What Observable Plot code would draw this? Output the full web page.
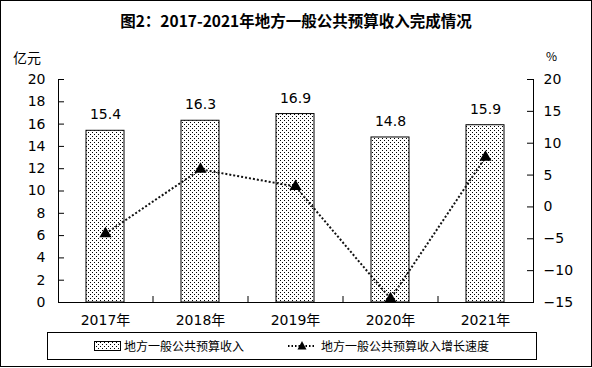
<!DOCTYPE html>
<html><head><meta charset="utf-8">
<script src="https://cdn.jsdelivr.net/npm/d3@7"></script>
<script src="https://cdn.jsdelivr.net/npm/@observablehq/plot@0.6"></script>
<style>
body{margin:0;background:#fff;font-family:"DejaVu Sans","Noto Sans CJK SC",sans-serif;}
#wrap{position:relative;width:592px;height:368px;overflow:hidden;}
#border{position:absolute;left:0;top:0;width:590px;height:365px;border:1px solid #000;}
#title{position:absolute;left:0;width:592px;top:9px;text-align:center;font:bold 15.5px "Noto Sans CJK SC",serif;color:#000;}
.unit{position:absolute;top:47px;font:14px "Noto Sans CJK SC",sans-serif;color:#000;}
#chart{position:absolute;left:0;top:0;}
#legend{position:absolute;left:47px;top:332px;width:488px;height:26px;border:1px solid #000;font:12px "Noto Sans CJK SC",sans-serif;color:#000;}
.li{position:absolute;top:4px;display:flex;align-items:center;}
</style></head>
<body><div id="wrap"><div id="border"></div>
<div id="title">图2：2017-2021年地方一般公共预算收入完成情况</div>
<div class="unit" style="left:13px">亿元</div>
<div class="unit" style="left:546px;font-size:12px">%</div>
<div id="chart"></div>
<div id="legend">
 <div class="li" style="left:46px"><svg width="28" height="12"><defs><pattern id="dl" width="4" height="4" patternUnits="userSpaceOnUse"><rect width="4" height="4" fill="#fff"/><rect width="1" height="1" fill="#000"/><rect x="2" y="2" width="1" height="1" fill="#000"/></pattern></defs><rect x="0.5" y="1.5" width="26" height="9" fill="url(#dl)" stroke="#000"/></svg><span style="margin-left:2px">地方一般公共预算收入</span></div>
 <div class="li" style="left:238px"><svg width="32" height="12"><line x1="2" x2="30" y1="6" y2="6" stroke="#000" stroke-width="2" stroke-dasharray="1.5 2"/><path d="M16,1 L20.5,9.5 L11.5,9.5Z" fill="#000"/></svg><span style="margin-left:3px">地方一般公共预算收入增长速度</span></div>
</div>
</div>
<script>
const years = ["2017年","2018年","2019年","2020年","2021年"];
const revenue = [15.4, 16.3, 16.9, 14.8, 15.9];
const growth = [-4.2, 5.9, 3.2, -14.4, 7.8];
const leftTicks = [0,2,4,6,8,10,12,14,16,18,20];
const rightTicks = [-15,-10,-5,0,5,10,15,20];

const rMin = -15, rMax = 20, lMax = 20;
const toLeft = g => (g - rMin) * lMax / (rMax - rMin);

const W = 592, H = 335, ML = 58, MR = 59, MT = 79, MB = 33, TICK = 6;
const plotW = W - ML - MR, plotH = H - MT - MB;
const step = plotW / years.length;
const rows = years.map((y, i) => ({year: y, rev: revenue[i], g: growth[i]}));

const font = `"DejaVu Sans","Noto Sans CJK SC",sans-serif`;
const plot = Plot.plot({
  width: W, height: H,
  marginTop: MT, marginBottom: MB, marginLeft: ML, marginRight: MR,
  style: {fontFamily: font, fontSize: "14px", color: "#000", background: "transparent", overflow: "visible"},
  x: {domain: years, padding: 0.6, paddingOuter: 0.3, label: null},
  y: {domain: [0, lMax], label: null},
  marks: [
    Plot.barY(rows, {x: "year", y: "rev", fill: "url(#dots)", stroke: "#000", strokeWidth: 1}),
    Plot.text(rows, {x: "year", y: "rev", text: d => d.rev.toFixed(1), dy: -16, fontSize: 14}),
    Plot.line(rows, {x: "year", y: d => toLeft(d.g), stroke: "#111", strokeWidth: 2, strokeDasharray: "2 2", strokeLinecap: "butt"}),
    Plot.dot(rows, {x: "year", y: d => toLeft(d.g), symbol: "triangle", r: 4.5, fill: "#000", stroke: "none"}),
    Plot.axisY({ticks: leftTicks, tickSize: 0, tickPadding: 13, tickFormat: d => d, fontSize: 14}),
    Plot.ruleY(leftTicks, {y: d => d, insetRight: plotW - TICK, stroke: "#000"}),
    Plot.axisY({ticks: rightTicks.map(toLeft), anchor: "right", tickSize: 0, tickPadding: 10, tickFormat: (d, i) => String(rightTicks[i]).replace("-", "−"), fontSize: 14}),
    Plot.ruleY(rightTicks, {y: d => toLeft(d), insetLeft: plotW - TICK, stroke: "#000"}),
    Plot.axisX({tickSize: 0, tickPadding: 13, fontSize: 14}),
    Plot.ruleX(years.slice(1), {x: d => d, insetTop: plotH - TICK, dx: -step / 2, stroke: "#000"}),
    Plot.frame({anchor: "left", stroke: "#000"}),
    Plot.frame({anchor: "right", stroke: "#000"}),
    Plot.frame({anchor: "bottom", stroke: "#000"})
  ]
});
const defs = d3.select(plot).insert("defs", ":first-child");
const p = defs.append("pattern").attr("id", "dots").attr("width", 4).attr("height", 4).attr("patternUnits", "userSpaceOnUse");
p.append("rect").attr("width", 4).attr("height", 4).attr("fill", "#fff");
p.append("rect").attr("width", 1).attr("height", 1).attr("fill", "#000");
p.append("rect").attr("x", 2).attr("y", 2).attr("width", 1).attr("height", 1).attr("fill", "#000");
document.getElementById("chart").append(plot);
</script>
</body></html>
